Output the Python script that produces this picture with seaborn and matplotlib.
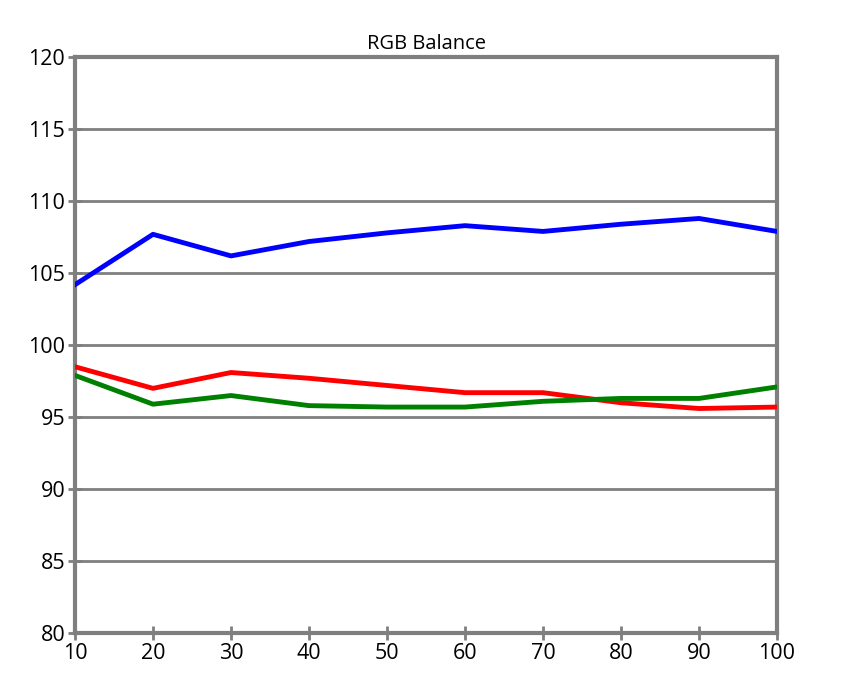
import matplotlib
matplotlib.use("Agg")
import matplotlib.pyplot as plt
import seaborn as sns
import pandas as pd

levels = [10, 20, 30, 40, 50, 60, 70, 80, 90, 100]
blue = [104.2, 107.7, 106.2, 107.2, 107.8, 108.3, 107.9, 108.4, 108.8, 107.9]
red = [98.5, 97.0, 98.1, 97.7, 97.2, 96.7, 96.7, 96.0, 95.6, 95.7]
green = [97.9, 95.9, 96.5, 95.8, 95.7, 95.7, 96.1, 96.3, 96.3, 97.1]

df = pd.DataFrame({"level": levels * 3,
                   "value": blue + red + green,
                   "channel": ["Blue"] * 10 + ["Red"] * 10 + ["Green"] * 10})

plt.rcParams["font.family"] = "Open Sans"
fig = plt.figure(figsize=(8.57, 6.98), dpi=100)
ax = fig.add_axes([0.0875, 0.093, 0.8192, 0.825])

for y in range(85, 120, 5):
    ax.axhline(y, color="#7f7f7f", lw=2, zorder=1)

sns.lineplot(data=df, x="level", y="value", hue="channel",
             palette={"Blue": "#0000ff", "Red": "#ff0000", "Green": "#008000"},
             lw=3.5, legend=False, ax=ax, zorder=3)

ax.set_xlim(10, 100)
ax.set_ylim(80, 120)
ax.set_xticks(levels)
ax.set_yticks(range(80, 121, 5))
ax.set_xlabel("")
ax.set_ylabel("")
ax.set_title("RGB Balance", fontsize=14.5, pad=6)
ax.tick_params(labelsize=15.5, direction="inout", length=10, width=2, color="#7f7f7f", pad=2)
for s in ax.spines.values():
    s.set_color("#7f7f7f")
    s.set_linewidth(3)

fig.savefig("out.png", dpi=100)
